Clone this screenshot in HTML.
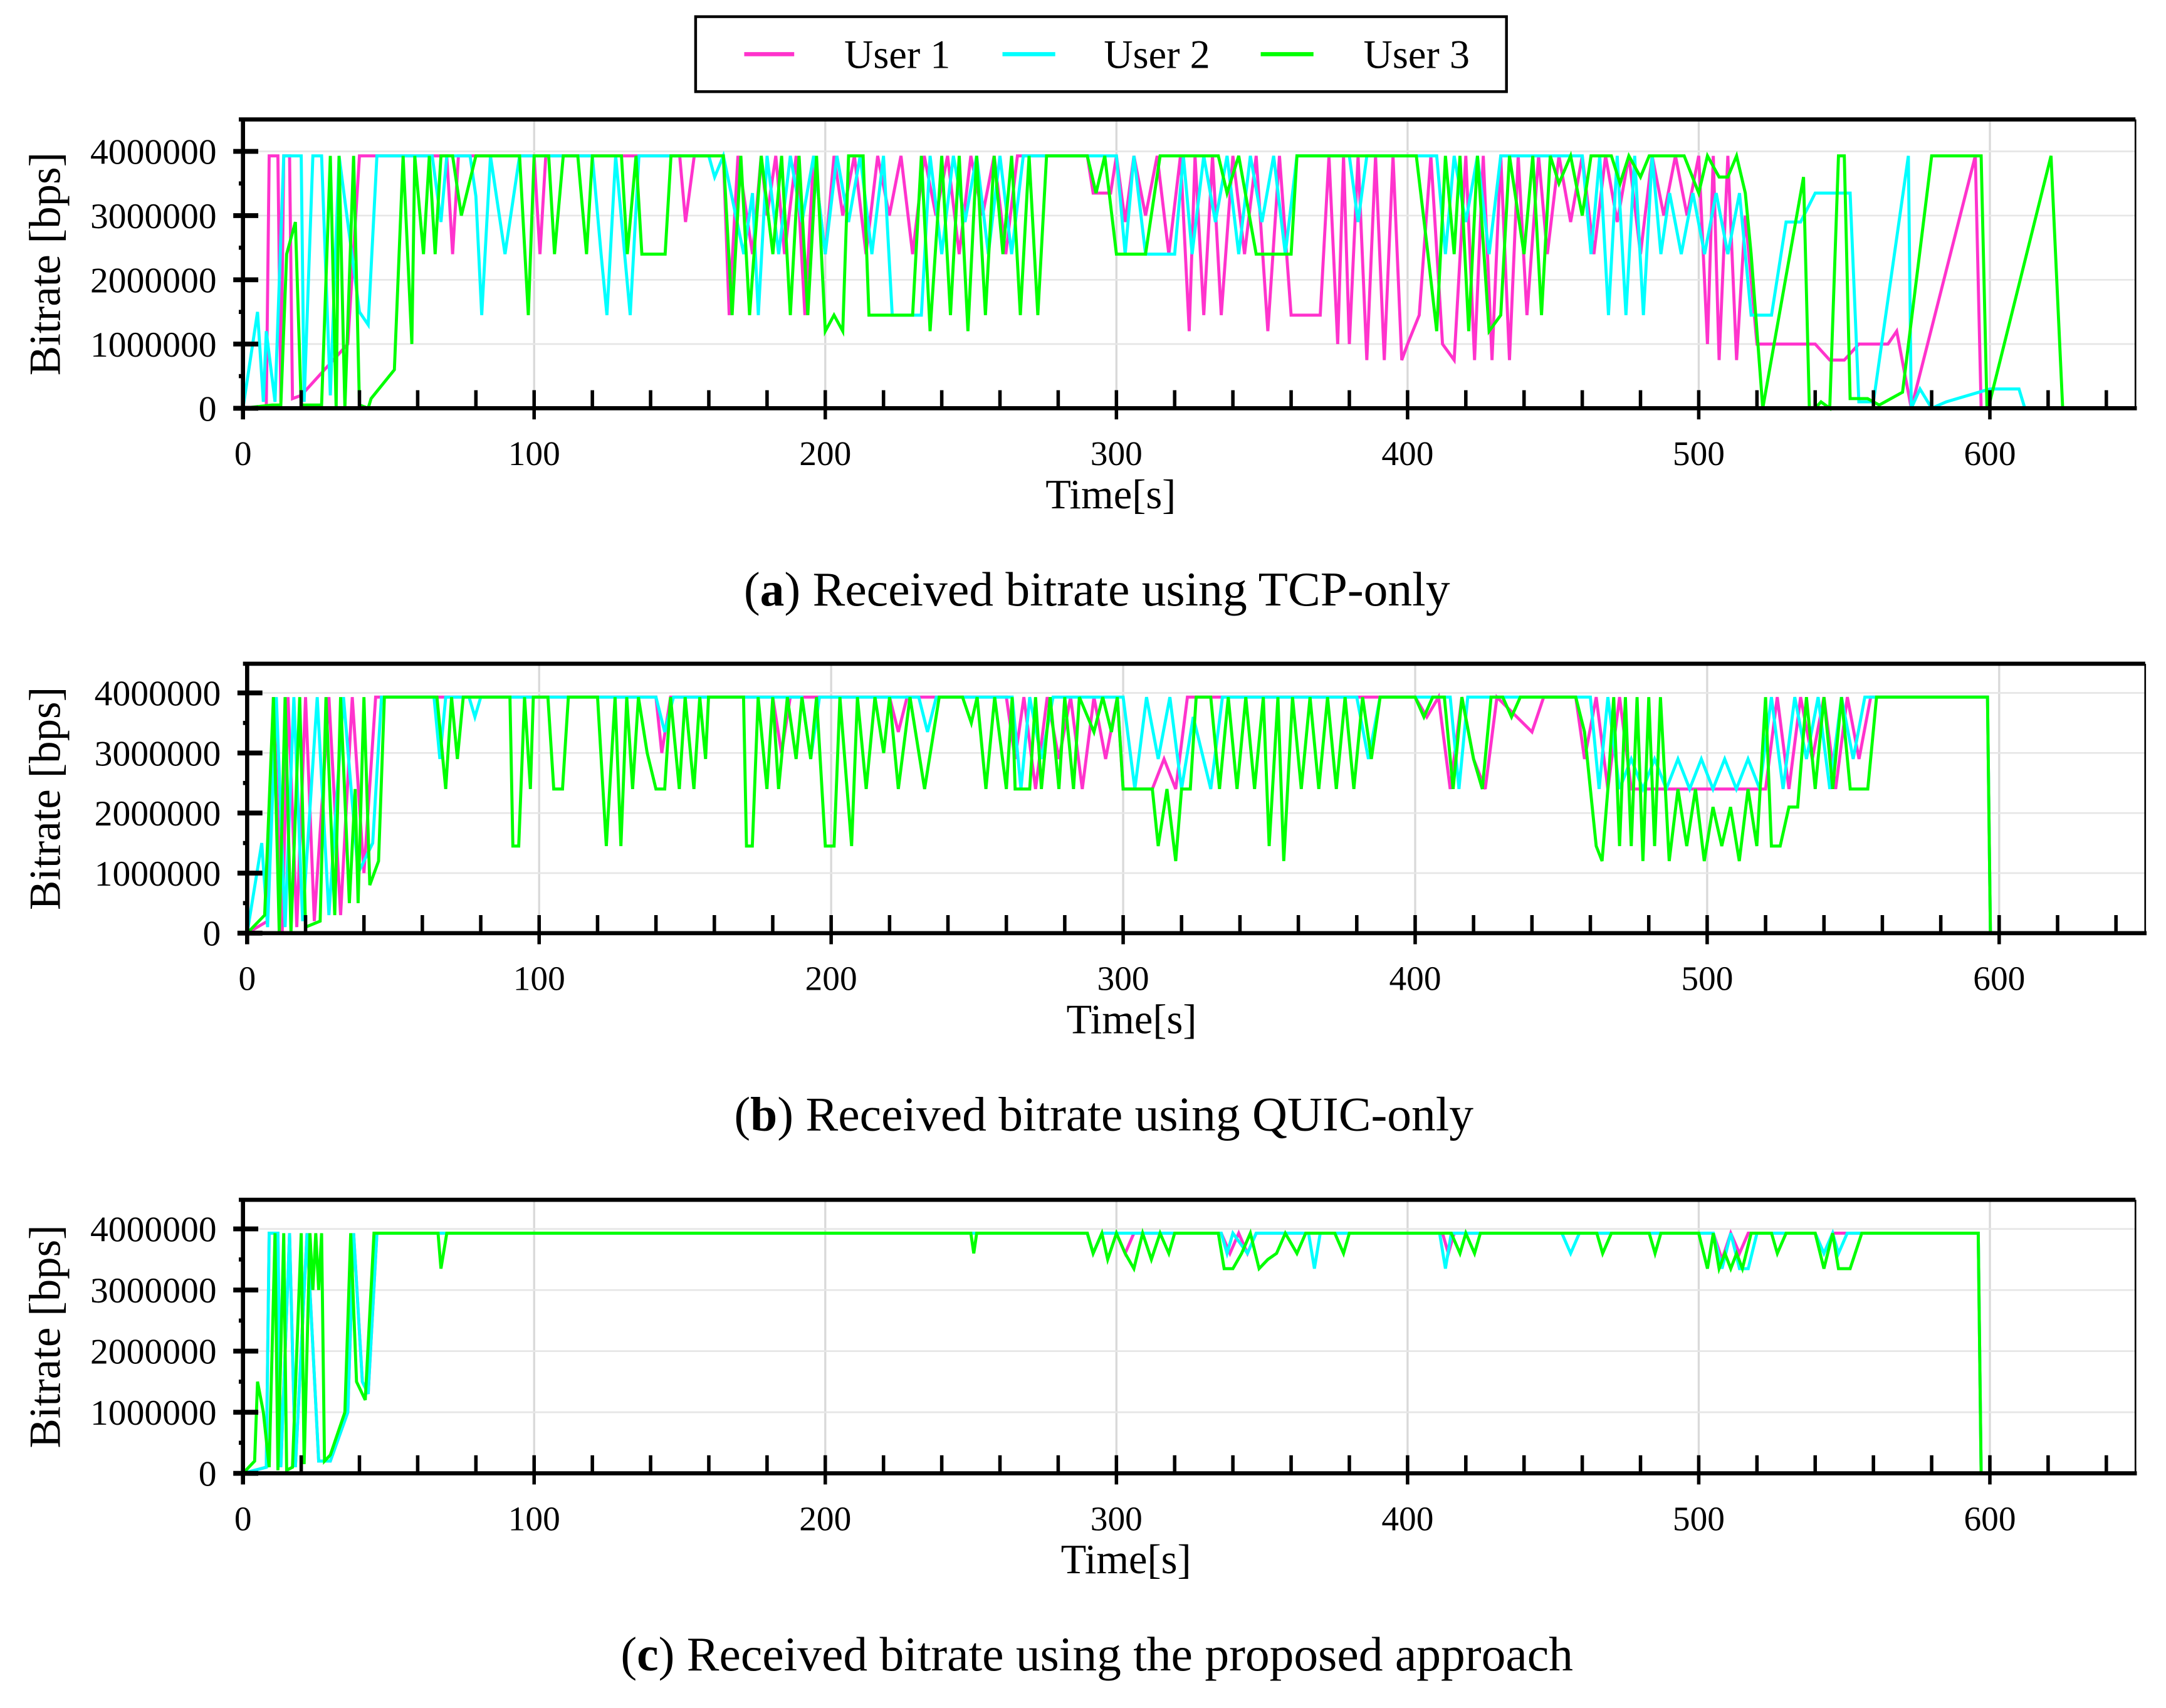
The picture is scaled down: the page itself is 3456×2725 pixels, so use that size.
<!DOCTYPE html>
<html><head><meta charset="utf-8"><style>
html,body{margin:0;padding:0;background:#fff;}
svg{display:block;}
text{font-family:"Liberation Serif",serif;fill:#000;}
</style></head><body>
<svg id="fig" width="3456" height="2725" viewBox="0 0 1560 1230" preserveAspectRatio="none" xmlns="http://www.w3.org/2000/svg">
<g>
<rect x="501" y="12" width="584" height="54" fill="#fff" stroke="#000" stroke-width="2"/>
<g><line x1="536" y1="39" x2="572" y2="39" stroke="#ff33cc" stroke-width="3"/><text x="608" y="49" font-size="29">User 1</text></g>
<g><line x1="722" y1="39" x2="760" y2="39" stroke="#00ffff" stroke-width="3"/><text x="795" y="49" font-size="29">User 2</text></g>
<g><line x1="908" y1="39" x2="946" y2="39" stroke="#00ff00" stroke-width="3"/><text x="982" y="49" font-size="29">User 3</text></g>
</g>
</svg>
<script>
const xTicks=[0,100,200,300,400,500,600];
const yTicks=[0,1,2,3,4];
const seriesNames=["User 1","User 2","User 3"];
// values in units of 1,000,000 bps; pairs [time s, value]
const tcpUser1=[[0,0],[8,0],[9,3.93],[12,3.93],[13,0.1],[14,3.93],[16,3.93],[17,0.15],[20,0.2],[36,1.0],[40,3.93],[70,3.93],[72,2.4],[74,3.93],[100,3.93],[102,2.4],[104,3.93],[150,3.93],[152,2.9],[155,3.93],[165,3.93],[167,1.45],[170,3.93],[175,2.4],[178,3.93],[180,3.0],[183,3.93],[186,2.4],[190,3.93],[193,1.45],[196,3.93],[200,2.4],[203,3.93],[206,3.0],[210,3.93],[214,2.4],[218,3.93],[222,3.0],[226,3.93],[230,2.4],[234,3.93],[238,3.0],[242,3.93],[246,2.4],[250,3.93],[254,3.0],[258,3.93],[262,2.4],[266,3.93],[290,3.93],[292,3.35],[298,3.35],[300,3.93],[303,2.9],[306,3.93],[310,3.0],[314,3.93],[318,2.4],[322,3.93],[325,1.2],[327,3.93],[330,1.45],[333,3.93],[336,1.45],[340,3.93],[344,2.4],[348,3.93],[352,1.2],[356,3.93],[360,1.45],[370,1.45],[373,3.93],[376,1.0],[378,3.93],[380,1.0],[383,3.93],[386,0.75],[389,3.93],[392,0.75],[395,3.93],[398,0.75],[400,1.0],[404,1.45],[408,3.93],[412,1.0],[416,0.75],[420,3.93],[423,0.75],[426,3.93],[429,0.75],[432,3.93],[435,0.75],[438,3.93],[441,1.45],[445,3.93],[448,2.4],[452,3.93],[456,2.9],[460,3.93],[464,2.4],[468,3.93],[472,2.9],[476,3.93],[480,2.4],[484,3.93],[488,3.0],[492,3.93],[496,3.0],[500,3.93],[503,1.0],[505,3.93],[507,0.75],[510,3.93],[513,0.75],[516,3.0],[520,1.0],[540,1.0],[545,0.75],[550,0.75],[555,1.0],[565,1.0],[568,1.2],[573,0],[595,3.93],[597,0],[620,0]];
const tcpUser2=[[0,0],[5,1.5],[7,0.1],[8,1.2],[11,0.1],[14,3.93],[20,3.93],[21,0.1],[24,3.93],[27,3.93],[30,0.2],[33,3.93],[40,1.5],[43,1.3],[46,3.93],[65,3.93],[68,2.9],[70,3.93],[78,3.93],[80,3.3],[82,1.45],[85,3.93],[90,2.4],[95,3.93],[120,3.93],[123,2.4],[125,1.45],[128,3.93],[133,1.45],[136,3.93],[160,3.93],[162,3.6],[165,3.93],[172,2.4],[175,3.35],[177,1.45],[180,3.93],[184,2.4],[188,3.93],[192,2.9],[196,3.93],[200,2.4],[204,3.93],[208,2.9],[212,3.93],[216,2.4],[220,3.93],[223,1.45],[233,1.45],[236,3.93],[240,2.4],[244,3.93],[248,2.9],[252,3.93],[256,2.4],[260,3.93],[264,2.4],[268,3.93],[300,3.93],[303,2.4],[306,3.93],[310,2.4],[320,2.4],[323,3.93],[326,2.4],[330,3.93],[334,2.9],[338,3.93],[342,2.4],[346,3.93],[350,2.9],[354,3.93],[358,2.4],[362,3.93],[380,3.93],[383,2.9],[386,3.93],[400,3.93],[410,3.93],[413,2.4],[416,3.93],[420,2.9],[424,3.93],[428,2.4],[432,3.93],[460,3.93],[463,2.4],[466,3.93],[469,1.45],[472,3.93],[475,1.45],[478,3.93],[481,1.45],[484,3.93],[487,2.4],[490,3.35],[494,2.4],[498,3.35],[502,2.4],[506,3.35],[510,2.4],[514,3.35],[518,1.45],[525,1.45],[530,2.9],[535,2.9],[540,3.35],[552,3.35],[555,0.1],[560,0.1],[572,3.93],[573,0],[576,0.3],[580,0],[585,0.1],[600,0.3],[610,0.3],[612,0]];
const tcpUser3=[[0,0],[10,0.05],[13,0.05],[15,2.4],[18,2.9],[20,0.05],[27,0.05],[30,3.93],[32,0],[33,3.93],[35,0],[38,3.93],[40,0.05],[43,0],[44,0.15],[52,0.6],[55,3.93],[58,1.0],[59,3.93],[62,2.4],[64,3.93],[66,2.4],[68,3.93],[72,3.93],[75,3.0],[80,3.93],[95,3.93],[98,1.45],[100,3.93],[105,3.93],[107,2.4],[110,3.93],[115,3.93],[118,2.4],[120,3.93],[130,3.93],[132,2.4],[135,3.93],[137,2.4],[145,2.4],[147,3.93],[165,3.93],[168,1.45],[171,3.93],[174,1.45],[178,3.93],[182,2.4],[185,3.93],[188,1.45],[191,3.93],[194,1.45],[197,3.93],[200,1.2],[203,1.45],[206,1.2],[208,3.93],[213,3.93],[215,1.45],[230,1.45],[233,3.93],[236,1.2],[240,3.93],[243,1.45],[246,3.93],[249,1.2],[252,3.93],[255,1.45],[258,3.93],[261,2.4],[264,3.93],[267,1.45],[270,3.93],[273,1.45],[276,3.93],[290,3.93],[293,3.35],[296,3.93],[300,2.4],[310,2.4],[315,3.93],[335,3.93],[338,3.35],[342,3.93],[348,2.4],[360,2.4],[362,3.93],[403,3.93],[407,2.4],[410,1.2],[413,3.93],[416,2.4],[418,3.93],[421,1.2],[424,3.93],[428,1.2],[432,1.45],[435,3.93],[440,2.4],[443,3.93],[446,1.45],[449,3.93],[452,3.5],[456,3.93],[460,3.0],[463,3.93],[470,3.93],[473,3.5],[476,3.93],[480,3.6],[483,3.93],[495,3.93],[500,3.35],[503,3.93],[507,3.6],[510,3.6],[513,3.93],[516,3.35],[518,2.4],[522,0],[536,3.6],[538,0],[540,0],[542,0.1],[545,0],[548,3.93],[550,3.93],[552,0.15],[558,0.15],[562,0.05],[570,0.25],[580,3.93],[597,3.93],[599,0],[600,0.1],[621,3.93],[625,0],[650,0]];
const quicUser1=[[0,0],[7,0.2],[9,3.93],[12,0],[14,3.93],[17,0.1],[20,3.93],[23,0.2],[28,3.93],[32,0.3],[36,3.93],[40,1.0],[44,3.93],[140,3.93],[142,3.0],[145,3.93],[180,3.93],[183,3.0],[186,3.93],[220,3.93],[223,3.35],[226,3.93],[260,3.93],[263,2.9],[266,3.93],[270,2.4],[274,3.93],[278,2.9],[282,3.93],[286,2.4],[290,3.93],[294,2.9],[298,3.93],[300,2.4],[310,2.4],[314,2.9],[318,2.4],[322,3.93],[400,3.93],[404,3.6],[408,3.93],[412,2.4],[416,3.93],[420,2.9],[424,2.4],[428,3.93],[440,3.35],[444,3.93],[455,3.93],[458,2.9],[462,3.93],[466,2.4],[470,3.93],[474,2.4],[520,2.4],[524,3.93],[528,2.4],[532,3.93],[536,2.9],[540,3.93],[544,2.4],[548,3.93],[552,2.9],[556,3.93],[596,3.93],[597,0]];
const quicUser2=[[0,0],[5,1.5],[7,0.1],[10,3.93],[13,0.1],[16,3.93],[19,0.2],[24,3.93],[28,0.3],[33,3.93],[38,1.0],[43,1.5],[46,3.93],[64,3.93],[66,2.9],[68,3.93],[76,3.93],[78,3.6],[80,3.93],[140,3.93],[143,3.35],[146,3.93],[190,3.93],[193,2.9],[196,3.93],[230,3.93],[233,3.35],[236,3.93],[262,3.93],[265,2.4],[268,3.93],[272,2.9],[276,3.93],[300,3.93],[304,2.4],[308,3.93],[312,2.9],[316,3.93],[320,2.4],[324,3.6],[330,2.4],[334,3.93],[380,3.93],[384,2.9],[388,3.93],[412,3.93],[415,2.4],[418,3.93],[460,3.93],[463,2.4],[466,3.93],[470,2.4],[474,2.9],[478,2.4],[482,2.9],[486,2.4],[490,2.9],[494,2.4],[498,2.9],[502,2.4],[506,2.9],[510,2.4],[514,2.9],[518,2.4],[522,3.93],[526,2.4],[530,3.93],[534,2.9],[538,3.93],[542,2.4],[546,3.93],[550,2.9],[554,3.93],[596,3.93],[597,0]];
const quicUser3=[[0,0],[6,0.3],[9,3.93],[11,0],[13,3.93],[15,0],[18,3.93],[20,0.1],[25,0.2],[27,3.93],[30,0.3],[32,3.93],[35,0.5],[37,2.4],[38,0.5],[40,3.93],[42,0.8],[45,1.2],[47,3.93],[65,3.93],[68,2.4],[70,3.93],[72,2.9],[74,3.93],[90,3.93],[91,1.45],[93,1.45],[95,3.93],[97,2.4],[98,3.93],[103,3.93],[105,2.4],[108,2.4],[110,3.93],[120,3.93],[123,1.45],[126,3.93],[128,1.45],[130,3.93],[132,2.4],[134,3.93],[137,3.0],[140,2.4],[143,2.4],[145,3.93],[148,2.4],[150,3.93],[153,2.4],[155,3.93],[157,2.9],[158,3.93],[170,3.93],[171,1.45],[173,1.45],[175,3.93],[178,2.4],[180,3.93],[182,2.4],[185,3.93],[188,2.9],[190,3.93],[193,2.9],[195,3.93],[198,1.45],[201,1.45],[203,3.93],[207,1.45],[209,3.93],[212,2.4],[215,3.93],[218,3.0],[220,3.93],[223,2.4],[227,3.93],[232,2.4],[237,3.93],[245,3.93],[248,3.5],[250,3.93],[253,2.4],[256,3.93],[260,2.4],[262,3.93],[263,2.4],[268,2.4],[270,3.93],[272,2.4],[275,3.93],[278,2.4],[280,3.93],[283,2.4],[285,3.93],[290,3.35],[293,3.93],[296,3.35],[298,3.93],[300,2.4],[310,2.4],[312,1.45],[315,2.4],[318,1.2],[320,2.4],[323,2.4],[325,3.93],[330,3.93],[333,2.4],[336,3.93],[339,2.4],[342,3.93],[345,2.4],[348,3.93],[350,1.45],[353,3.93],[355,1.2],[358,3.93],[361,2.4],[364,3.93],[367,2.4],[370,3.93],[373,2.4],[376,3.93],[379,2.4],[382,3.93],[385,2.9],[388,3.93],[400,3.93],[403,3.6],[406,3.93],[410,3.93],[413,2.4],[416,3.93],[420,2.9],[423,2.4],[426,3.93],[430,3.93],[433,3.6],[436,3.93],[455,3.93],[458,3.35],[460,2.4],[462,1.45],[464,1.2],[466,2.4],[468,3.93],[470,1.45],[472,3.93],[474,1.45],[476,3.93],[478,1.2],[480,3.93],[482,1.45],[484,3.93],[487,1.2],[490,2.4],[493,1.45],[496,2.4],[499,1.2],[502,2.1],[505,1.45],[508,2.1],[511,1.2],[514,2.4],[517,1.45],[520,3.93],[522,1.45],[525,1.45],[528,2.1],[531,2.1],[534,3.93],[537,2.4],[540,3.93],[543,2.4],[546,3.93],[549,2.4],[555,2.4],[558,3.93],[596,3.93],[597,0]];
const propUser1=[[0,0],[8,0.1],[9,3.93],[12,3.93],[13,0.1],[16,3.93],[18,0.1],[22,3.93],[26,0.2],[30,0.2],[36,1.0],[38,3.93],[41,1.5],[43,1.3],[46,3.93],[290,3.93],[292,3.6],[295,3.93],[300,3.93],[303,3.6],[306,3.93],[336,3.93],[339,3.6],[342,3.93],[345,3.6],[348,3.93],[412,3.93],[414,3.6],[416,3.93],[505,3.93],[508,3.5],[511,3.93],[514,3.6],[517,3.93],[540,3.93],[543,3.6],[546,3.93],[596,3.93],[597,0]];
const propUser2=[[0,0],[8,0.1],[9,3.93],[12,3.93],[13,0.1],[16,3.93],[18,0.1],[22,3.93],[26,0.2],[30,0.2],[36,1.0],[38,3.93],[41,1.5],[43,1.3],[46,3.93],[290,3.93],[292,3.6],[295,3.93],[336,3.93],[338,3.6],[340,3.93],[345,3.6],[348,3.93],[366,3.93],[368,3.35],[370,3.93],[411,3.93],[413,3.35],[415,3.93],[453,3.93],[456,3.6],[459,3.93],[505,3.93],[508,3.35],[511,3.93],[514,3.35],[517,3.35],[520,3.93],[540,3.93],[543,3.6],[546,3.93],[548,3.6],[551,3.93],[596,3.93],[597,0]];
const propUser3=[[0,0],[4,0.2],[5,1.5],[7,1.0],[9,0.1],[11,3.93],[12,0.05],[14,3.93],[15,0.05],[17,0.1],[20,3.93],[21,0.15],[23,3.93],[24,3.0],[25,3.93],[26,3.0],[27,3.93],[28,0.2],[30,0.3],[35,1.0],[37,3.93],[39,1.5],[42,1.2],[45,3.93],[67,3.93],[68,3.35],[70,3.93],[250,3.93],[251,3.6],[252,3.93],[290,3.93],[292,3.6],[295,3.93],[297,3.5],[300,3.93],[303,3.6],[306,3.35],[309,3.93],[312,3.5],[315,3.93],[318,3.6],[320,3.93],[335,3.93],[337,3.35],[340,3.35],[343,3.6],[346,3.93],[349,3.35],[352,3.5],[355,3.6],[358,3.93],[362,3.6],[365,3.93],[375,3.93],[378,3.6],[380,3.93],[415,3.93],[418,3.6],[420,3.93],[423,3.6],[425,3.93],[465,3.93],[467,3.6],[470,3.93],[483,3.93],[485,3.6],[487,3.93],[500,3.93],[503,3.35],[505,3.93],[507,3.35],[509,3.6],[511,3.35],[513,3.6],[515,3.35],[518,3.93],[525,3.93],[527,3.6],[530,3.93],[540,3.93],[543,3.35],[546,3.93],[548,3.35],[552,3.35],[556,3.93],[596,3.93],[597,0]];

const NS="http://www.w3.org/2000/svg";
const svg=document.getElementById('fig');
const colors=["#ff33cc","#00ffff","#00ff00"];
function mk(tag,attrs,parent){const e=document.createElementNS(NS,tag);for(const k in attrs)e.setAttribute(k,attrs[k]);(parent||svg).appendChild(e);return e;}

function panel(p,id,series,caption,letter){
  const g=mk('g',{});
  
  
  const xs=t=>p.left+t/650*(p.right-p.left);
  const ys=v=>p.y0-v*(p.y0-p.y4)/4;
  for(const t of xTicks){ if(t===0) continue;
    const l=mk('line',{x1:xs(t),x2:xs(t),y1:p.top,y2:p.y0,stroke:'#d9d9d9','stroke-width':1.5},g);
    
    
  }
  for(const v of yTicks){ if(v===0) continue;
    const l=mk('line',{x1:p.left,x2:p.right,y1:ys(v),y2:ys(v),stroke:'#e6e6e6','stroke-width':1.2},g);
    
    
  }
  series.forEach((s,i)=>{
    const d=s.map((q,j)=>(j?'L':'M')+xs(q[0]).toFixed(2)+' '+ys(q[1]).toFixed(2)).join(' ');
    const path=mk('path',{d:d,fill:'none',stroke:colors[i],'stroke-width':2.2,'stroke-linejoin':'miter'},g);
    
    
  });
  mk('line',{x1:p.left-3,x2:p.right,y1:p.top,y2:p.top,stroke:'#000','stroke-width':3},g);
  mk('line',{x1:p.right,x2:p.right,y1:p.top,y2:p.y0,stroke:'#000','stroke-width':1.2},g);
  mk('line',{x1:p.left-3,x2:p.right+1,y1:p.y0,y2:p.y0,stroke:'#000','stroke-width':3},g);
  mk('line',{x1:p.left,x2:p.left,y1:p.top,y2:p.y0+8,stroke:'#000','stroke-width':3},g);
  for(let v=0;v<=4.001;v+=0.5){
    const major=Math.abs(v-Math.round(v))<0.01;
    mk('line',{x1:p.left-(major?7:3),x2:p.left+(major?11:0),y1:ys(v),y2:ys(v),stroke:'#000','stroke-width':major?3.5:3},g);
  }
  for(const v of yTicks){
    const t=mk('text',{x:p.left-19,y:ys(v)+9,'font-size':26,'text-anchor':'end'},g);
    t.textContent=String(v*1000000);
    
    
  }
  for(let t=20;t<650;t+=20){
    mk('line',{x1:xs(t),x2:xs(t),y1:p.y0-13,y2:p.y0+(t%100===0?8:0),stroke:'#000','stroke-width':2.5},g);
  }
  for(const t of xTicks){
    const tx=mk('text',{x:xs(t),y:p.y0+41,'font-size':25,'text-anchor':'middle'},g);
    tx.textContent=String(t);
    
    
  }
  const xt=mk('text',{x:p.tx,y:p.y0+72,'font-size':30,'text-anchor':'middle'},g);
  xt.textContent='Time[s]';
  
  
  const cy=(p.top+p.y0)/2;
  const yt=mk('text',{x:0,y:0,'font-size':32,'text-anchor':'middle',transform:`translate(43 ${cy}) rotate(-90)`},g);
  yt.textContent='Bitrate [bps]';
  
  
  const cap=mk('text',{x:p.cx,y:p.y0+142,'font-size':35,'text-anchor':'middle'},g);
  cap.innerHTML='(<tspan font-weight="bold">'+letter+'</tspan>) '+caption;
  
  
}
panel({left:175,right:1538,top:86,y0:294,y4:109,tx:800,cx:790},'tcp-only',[tcpUser1,tcpUser2,tcpUser3],'Received bitrate using TCP-only','a');
panel({left:178,right:1545,top:478,y0:672,y4:499,tx:815,cx:795},'quic-only',[quicUser1,quicUser2,quicUser3],'Received bitrate using QUIC-only','b');
panel({left:175,right:1538,top:864,y0:1061,y4:885,tx:811,cx:790},'proposed',[propUser1,propUser2,propUser3],'Received bitrate using the proposed approach','c');
</script>
</body></html>
